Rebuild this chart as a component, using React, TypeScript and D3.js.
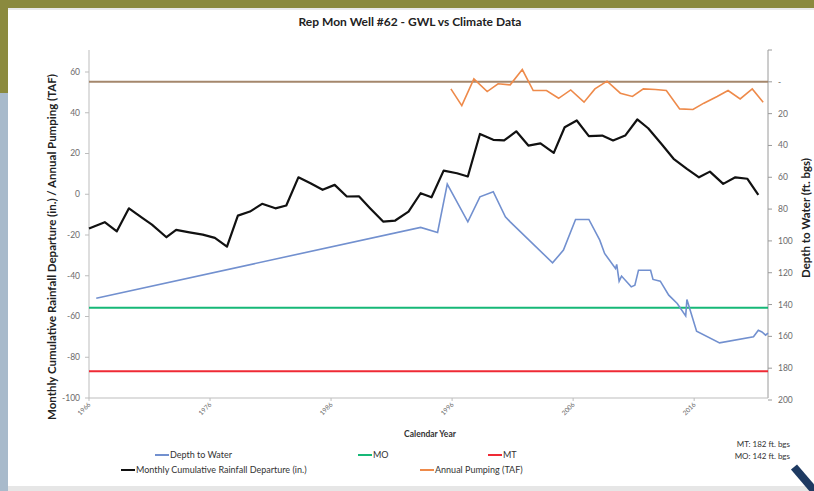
import React from 'react';
import * as d3 from 'd3';

// ---------- Data ----------
const rainYears = [1966.0, 1967.3, 1968.3, 1969.3, 1970.4, 1971.2, 1972.4, 1973.2, 1974.3, 1975.4, 1976.4, 1977.4, 1978.3, 1979.3, 1980.3, 1981.4, 1982.3, 1983.3, 1984.3, 1985.3, 1986.3, 1987.3, 1988.3, 1989.2, 1990.3, 1991.3, 1992.4, 1993.4, 1994.3, 1995.3, 1996.4, 1997.3, 1998.3, 1999.4, 2000.3, 2001.3, 2002.3, 2003.3, 2004.4, 2005.3, 2006.3, 2007.3, 2008.4, 2009.3, 2010.3, 2011.3, 2012.2, 2013.3, 2014.3, 2015.4, 2016.4, 2017.3, 2018.4, 2019.4, 2020.4, 2021.3];
const rainValues = [-16.8, -13.7, -18.2, -6.9, -11.6, -14.9, -21.1, -17.5, -18.7, -19.8, -21.4, -25.7, -10.5, -8.5, -4.7, -6.9, -5.5, 8.3, 5.4, 2.2, 4.6, -1.1, -1.0, -6.7, -13.4, -12.9, -8.5, 0.5, -1.5, 11.6, 10.3, 8.7, 29.6, 26.7, 26.4, 30.9, 23.9, 25.0, 20.3, 32.9, 36.2, 28.5, 28.8, 26.4, 28.8, 36.7, 32.4, 24.7, 17.4, 12.5, 8.3, 11.1, 5.1, 8.3, 7.6, -0.3];

const pumpYears = [1995.9, 1996.8, 1997.8, 1998.9, 1999.8, 2000.8, 2001.8, 2002.7, 2003.8, 2004.8, 2005.8, 2006.9, 2007.8, 2008.8, 2009.9, 2010.9, 2011.8, 2012.8, 2013.7, 2014.8, 2015.9, 2016.8, 2017.9, 2018.8, 2019.8, 2020.8, 2021.7];
const pumpValues = [51.7, 43.5, 56.6, 50.4, 54.2, 53.7, 61.2, 50.9, 50.9, 47.1, 51.2, 45.2, 51.7, 55.5, 49.6, 48.0, 51.7, 51.4, 50.9, 41.9, 41.6, 44.7, 48.0, 50.9, 46.8, 51.7, 45.2];

const depthYears = [1966.6, 1993.4, 1994.8, 1995.6, 1997.3, 1998.3, 1999.4, 2000.4, 2000.8, 2004.3, 2005.2, 2006.2, 2007.3, 2008.2, 2008.6, 2009.5, 2009.6, 2009.8, 2010.0, 2010.8, 2011.1, 2011.4, 2012.4, 2012.6, 2013.2, 2013.9, 2014.6, 2015.3, 2015.4, 2016.2, 2018.1, 2020.9, 2021.3, 2021.6, 2021.9, 2022.1];
const depthValues = [136.0, 91.5, 94.7, 64.3, 88.0, 72.3, 69.1, 84.8, 88.0, 113.8, 105.8, 86.5, 86.5, 99.5, 107.9, 117.3, 114.8, 125.3, 122.1, 128.9, 127.8, 118.4, 118.4, 124.2, 125.3, 134.1, 139.3, 147.1, 136.8, 156.7, 164.1, 160.3, 156.1, 157.2, 159.2, 157.9];

const moDepth = 142;
const mtDepth = 182;
const groundDepth = 0;

const xTickYears = [1966, 1976, 1986, 1996, 2006, 2016];
const leftTicks = [-100, -80, -60, -40, -20, 0, 20, 40, 60];
const rightTicks = [0, 20, 40, 60, 80, 100, 120, 140, 160, 180, 200];

const titleText = 'Rep Mon Well #62 - GWL vs Climate Data';
const leftTitle = 'Monthly Cumulative Rainfall Departure (in.) / Annual Pumping (TAF)';
const rightTitle = 'Depth to Water (ft. bgs)';
const xTitle = 'Calendar Year';

const C = {
  olive: '#8b8a3e',
  steel: '#a8bacb',
  depth: '#7290cf',
  mo: '#16b877',
  mt: '#ef2a35',
  rain: '#111111',
  pump: '#ee8a4a',
  ground: '#a4876c',
  axis: '#bdbdbd',
  tick: '#6b6b6b',
};

const FONT = 'Lato, "Open Sans", sans-serif';

export default function App() {
  const left = 89, right = 768, top = 50, bottom = 398;
  const x = d3.scaleLinear().domain([1966, 2022.1]).range([left, right]);
  const yL = d3.scaleLinear().domain([-100, 70.8]).range([bottom, top]);
  const yR = d3.scaleLinear().domain([-20, 200]).range([top, bottom + 2]);

  const rainLine = d3.line<number>().x((_, i) => x(rainYears[i])).y((d) => yL(d))(rainValues) || '';
  const pumpLine = d3.line<number>().x((_, i) => x(pumpYears[i])).y((d) => yL(d))(pumpValues) || '';
  const depthLine = d3.line<number>().x((_, i) => x(depthYears[i])).y((d) => yR(d))(depthValues) || '';

  const legend1 = [
    { label: 'Depth to Water', color: C.depth, x: 155 },
    { label: 'MO', color: C.mo, x: 358 },
    { label: 'MT', color: C.mt, x: 488 },
  ];
  const legend2 = [
    { label: 'Monthly Cumulative Rainfall Departure (in.)', color: C.rain, x: 121 },
    { label: 'Annual Pumping (TAF)', color: C.pump, x: 420 },
  ];

  return (
    <svg width={814} height={491} style={{ position: 'absolute', left: 0, top: 0, fontFamily: FONT }}>
      {/* background / slide */}
      <rect x={0} y={0} width={814} height={491} fill="#ffffff" />
      <rect x={0} y={0} width={814} height={8} fill={C.olive} />
      <rect x={0} y={0} width={8} height={93} fill={C.olive} />
      <rect x={0} y={93} width={8} height={398} fill={C.steel} />
      <line x1={8} x2={814} y1={9} y2={9} stroke="#e2e2e2" strokeWidth={1.5} />
      <rect x={8} y={486} width={806} height={5} fill="#e6e6e6" />

      {/* title */}
      <text x={410} y={26} textAnchor="middle" fontSize={12} fontWeight="bold" fill="#222">{titleText}</text>

      {/* axes lines */}
      <line x1={left} x2={left} y1={top} y2={bottom} stroke={C.axis} />
      <line x1={right} x2={right} y1={top} y2={bottom} stroke="#9a9a9a" />
      <line x1={left} x2={right} y1={bottom} y2={bottom} stroke={C.axis} />

      {/* left ticks */}
      {leftTicks.map((t) => (
        <g key={'l' + t}>
          <line x1={left - 4} x2={left} y1={yL(t)} y2={yL(t)} stroke={C.axis} />
          <text x={80} y={yL(t)} dy="0.35em" textAnchor="end" fontSize={8.5} fill={C.tick}>{t}</text>
        </g>
      ))}
      {/* right ticks */}
      <line x1={right} x2={right + 4} y1={yR(-20)} y2={yR(-20)} stroke="#9a9a9a" />
      {rightTicks.map((t) => (
        <g key={'r' + t}>
          <line x1={right} x2={right + 4} y1={yR(t)} y2={yR(t)} stroke="#9a9a9a" />
          <text x={778} y={yR(t)} dy="0.35em" textAnchor="start" fontSize={8.5} fill={C.tick}>{t === 0 ? '-' : t}</text>
        </g>
      ))}
      {/* x ticks */}
      {xTickYears.map((t) => (
        <g key={'x' + t}>
          <line x1={x(t)} x2={x(t)} y1={bottom} y2={bottom + 3} stroke={C.axis} />
          <text transform={`translate(${x(t) + 2},${bottom + 7}) rotate(-45)`} textAnchor="end" fontSize={6.5} fill={C.tick}>{t}</text>
        </g>
      ))}

      {/* reference lines */}
      <line x1={left} x2={right} y1={yR(groundDepth)} y2={yR(groundDepth)} stroke={C.ground} strokeWidth={2} />
      <line x1={left} x2={right} y1={yR(moDepth)} y2={yR(moDepth)} stroke={C.mo} strokeWidth={2} />
      <line x1={left} x2={right} y1={yR(mtDepth)} y2={yR(mtDepth)} stroke={C.mt} strokeWidth={2} />

      {/* series */}
      <path d={depthLine} fill="none" stroke={C.depth} strokeWidth={1.6} />
      <path d={pumpLine} fill="none" stroke={C.pump} strokeWidth={1.6} />
      <path d={rainLine} fill="none" stroke={C.rain} strokeWidth={2.2} strokeLinejoin="round" />

      {/* axis titles */}
      <text transform={`translate(52,247) rotate(-90)`} textAnchor="middle" dy="0.35em" fontSize={11.5} fontWeight="bold" fill="#222">{leftTitle}</text>
      <text transform={`translate(806,218) rotate(-90)`} textAnchor="middle" dy="0.35em" fontSize={11.5} fontWeight="bold" fill="#222">{rightTitle}</text>
      <text x={430} y={437} textAnchor="middle" fontSize={8.5} fontWeight="bold" fill="#333">{xTitle}</text>

      {/* legend */}
      {legend1.map((l) => (
        <g key={l.label}>
          <line x1={l.x} x2={l.x + 14} y1={455} y2={455} stroke={l.color} strokeWidth={2} />
          <text x={l.x + 15} y={455} dy="0.35em" fontSize={9} fill="#333">{l.label}</text>
        </g>
      ))}
      {legend2.map((l) => (
        <g key={l.label}>
          <line x1={l.x} x2={l.x + 14} y1={470} y2={470} stroke={l.color} strokeWidth={2} />
          <text x={l.x + 15} y={470} dy="0.35em" fontSize={9} fill="#333">{l.label}</text>
        </g>
      ))}

      {/* notes */}
      <text x={790} y={447} textAnchor="end" fontSize={8} fill="#333">{`MT: ${mtDepth} ft. bgs`}</text>
      <text x={790} y={459} textAnchor="end" fontSize={8} fill="#333">{`MO: ${moDepth} ft. bgs`}</text>

      {/* decorative navy stroke */}
      <line x1={794} y1={467} x2={818} y2={495} stroke="#1e3a62" strokeWidth={8} />
    </svg>
  );
}
